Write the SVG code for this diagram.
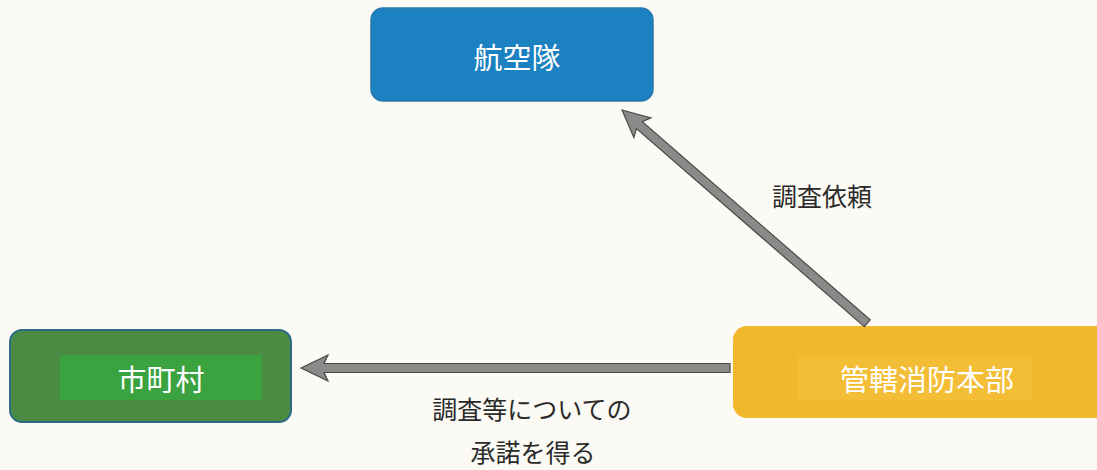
<svg xmlns="http://www.w3.org/2000/svg" width="1097" height="470" viewBox="0 0 1097 470">
<style>
.node-text{font-family:"Noto Sans CJK JP","Noto Sans",sans-serif;font-size:29px;fill:#ffffff;text-anchor:middle;dominant-baseline:central}
.label{font-family:"Noto Sans CJK JP","Noto Sans",sans-serif;font-size:25px;fill:#2a2a2a;text-anchor:middle;dominant-baseline:central}
.arrow{fill:#8a8a88;stroke:#4a4a4a;stroke-width:1.2;stroke-linejoin:miter}
</style>
<rect width="1097" height="470" fill="#fbfaf4"/>
<g id="node-kokutai">
<rect x="371" y="8" width="282" height="93" rx="12" fill="#1b81c0" stroke="#2a79ab" stroke-width="1.5"/>
<text class="node-text" x="517" y="56">航空隊</text>
</g>
<g id="node-shichoson">
<rect x="10" y="330" width="281" height="92" rx="12" fill="#4b8c45" stroke="#2f6b86" stroke-width="2"/>
<rect x="60" y="355" width="202" height="45" fill="#3aa23e"/>
<text class="node-text" x="161" y="378">市町村</text>
</g>
<g id="node-honbu">
<rect x="733" y="326" width="380" height="92" rx="14" fill="#f0b82b"/>
<rect x="798" y="355" width="234" height="46" fill="#f3bd36"/>
<text class="node-text" x="927" y="378">管轄消防本部</text>
</g>
<g id="connectors">
<g transform="translate(301,368)">
<polygon class="arrow" points="0,0 27,-13 23,-4.5 429,-4.5 429,4.5 23,4.5 27,13"/>
</g>
<g transform="translate(622,110) rotate(41)">
<polygon class="arrow" points="0,0 27,-13 23,-4.5 325,-4.5 325,4.5 23,4.5 27,13"/>
</g>
<text class="label" x="822" y="195">調査依頼</text>
<text class="label" x="532" y="408">調査等についての</text>
<text class="label" x="533" y="451">承諾を得る</text>
</g>
</svg>
